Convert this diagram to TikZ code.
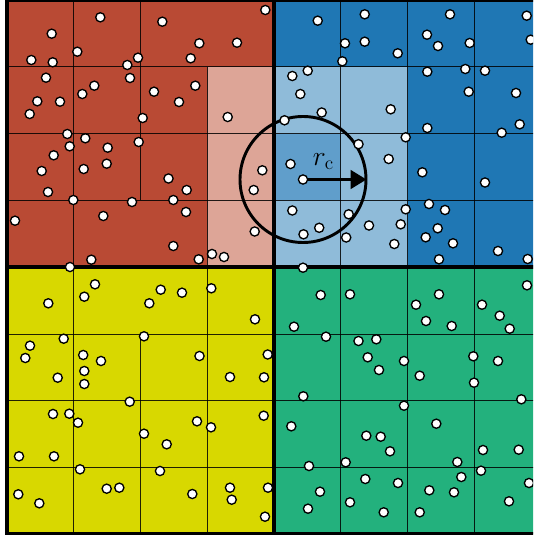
\documentclass[tikz,border=0pt]{standalone}
\usetikzlibrary{arrows.meta}
\definecolor{cred}{RGB}{185,74,52}
\definecolor{cpink}{RGB}{221,165,151}
\definecolor{cblue}{RGB}{31,119,180}
\definecolor{clblue}{RGB}{143,187,217}
\definecolor{cmblue}{RGB}{96,158,203}
\definecolor{cyellow}{RGB}{216,216,0}
\definecolor{cgreen}{RGB}{35,177,125}
\tikzset{
  thin grid/.style={line width=0.7pt, draw=black, opacity=0.85},
  thick border/.style={line width=3pt, draw=black},
  particle/.style={fill=white, draw=black, line width=1pt},
  radius arrow/.style={line width=2.2pt, -{Triangle[length=12pt,width=14pt]}},
  cutoff/.style={line width=2.2pt, draw=black}
}
\begin{document}
\begin{tikzpicture}[x=0.75pt,y=-0.75pt]
\useasboundingbox (0,0) rectangle (533,535);
\clip (0,0) rectangle (533,535);
% fills
\fill[cred] (6.8,0) rectangle (274,267.2);
\fill[cpink] (207.2,66.8) rectangle (274,267.2);
\fill[cblue] (274,0) rectangle (541.2,267.2);
\fill[clblue] (274,66.8) rectangle (407.6,267.2);
\fill[cmblue] (274,133.6) rectangle (340.8,200.4);
\fill[cyellow] (6.8,267.2) rectangle (274,534.4);
\fill[cgreen] (274,267.2) rectangle (541.2,534.4);
% thin grid: red quadrant
\foreach \y in {66.8,133.6,200.4} \draw[thin grid] (6.8,\y) -- (274,\y);
\draw[thin grid] (73.6,0) -- (73.6,267.2);
\draw[thin grid] (140.4,0) -- (140.4,200.4);
\draw[thin grid] (207.2,66.8) -- (207.2,267.2);
% blue quadrant
\foreach \y in {66.8,133.6,200.4} \draw[thin grid] (274,\y) -- (541.2,\y);
\foreach \x in {340.8,407.6,474.4} \draw[thin grid] (\x,0) -- (\x,267.2);
% yellow quadrant
\foreach \y in {334,400.8,467.6} \draw[thin grid] (6.8,\y) -- (274,\y);
\draw[thin grid] (73.6,267.2) -- (73.6,534.4);
\draw[thin grid] (140.4,334) -- (140.4,534.4);
\draw[thin grid] (207.2,267.2) -- (207.2,534.4);
% green quadrant
\foreach \y in {334,400.8,467.6} \draw[thin grid] (274,\y) -- (541.2,\y);
\foreach \x in {340.8,407.6,474.4} \draw[thin grid] (\x,267.2) -- (\x,534.4);
% thick borders
\draw[thick border] (6.8,0) rectangle (541.2,534.4);
\draw[thick border] (274,0) -- (274,534.4);
\draw[thick border] (6.8,267.2) -- (541.2,267.2);
% cutoff circle and arrow
\coordinate (c) at (303,179.5);
\coordinate (tip) at (366.5,179.5);
\draw[cutoff] (c) circle (63);
\draw[radius arrow] (c) -- (tip);
\node[anchor=base west, inner sep=0pt, font=\fontsize{20}{24}\selectfont] (rc) at (312.5,165) {$r_\mathrm{c}$};
% particles
\foreach \p in {
(100.3,17.3),(162.3,21.7),(51.7,33.7),(77.3,51.7),(31.3,60),(52.7,62.3),(138,57.7),(127.3,65),(46,77.7),(130,78),(94.3,85.7),(82.3,94),(154,91.7),(37.3,101.3),(60,101.7),(179,102),(29.7,114),(142.7,118),(67.3,134),(85.3,138.3),(138.7,142),(69.7,146.3),(107.7,147.7),(53.7,155.3),(106.7,163.7),(41.7,171),(83.7,169),(168.5,178.5),
(265.3,10),(199.3,43.3),(237,42.7),(190.7,58.3),(195.3,85.7),(227.7,117),(262.3,170.3),(253.7,190),(254.7,231.5),(186.7,190),(186,212),(212,254),(224,257),(198.7,259.3),
(48,192),(73.3,200),(132,202),(173.3,200),(15,220.7),(103.3,216),(173.3,246),(91.3,259.7),(70,267),
(317.7,20.7),(345,43.3),(342.3,61.3),(307.7,70.7),(292.3,76),(300.3,94),(321.7,112.5),(284.5,120.3),(358.5,144.2),(290.5,164),(303,179.5),(292.3,210.5),(348.7,214.3),(369,225.5),(319.2,227.8),(303.5,234.3),(346.2,237.5),
(364.7,14.3),(450,14.3),(526.7,15.7),(427,34.7),(364.7,41.7),(438,46),(469.7,43),(530.7,39.7),(397.7,53.3),(427.3,71.7),(465.3,69),(485,70.7),(468.7,91.7),(516,93),(390.7,109.3),(427.3,128),(519.7,124.3),(501.7,132.7),(405.7,137.3),(388.7,159),(422.3,172.3),(485,182.5),
(405.7,209.3),(400.7,224.3),(394.3,244),(429,204),(445,210),(437.7,228.3),(425.7,237.3),(453,243.3),(439,259.3),(498,251),(527.7,259),
(303,267.7),
(527,285.3),(439,294.3),(416,304.7),(482,304.7),(499.7,315.7),(426,321),(451.7,326),(509.7,328.7),(358.5,341),(376.3,339.3),(367.7,357.3),(404,361),(473.3,356.3),(498,361),(320.7,295),(350,294.3),(294,326.7),(326,336.7),
(379,370),(419.7,375.7),(474,382.7),(521.3,399.3),(404,405.7),(436.3,423.7),(366.3,435.7),(380.7,436.7),(390,451.3),(483,450),(518.7,449.7),(457.3,462),(481,470.7),(365.3,479),(398,483),(461.3,477),(529,483),(429.3,490.3),(454,492.3),(509,501.3),(383.7,512.3),(419.7,512.3),
(303.3,396.3),(291.3,426.3),(309,466),(345.7,462.3),(320,491.7),(308,508.7),(350,502.3),
(182,292.7),(211.3,288.3),(255,319.3),(199.5,356),(267.7,354.5),(95,284.3),(84.3,296.7),(48.3,303.3),(160.7,289.7),(149.3,303.3),(63.7,338.7),(144,336.3),(30,345.7),(25.3,358),(83.2,355),(101,361),(84.3,371),(57.7,377.7),(84.3,384),(129.7,401.7),(53,414),(69.3,413.7),(78,422.7),(144,433.7),(166.7,444.3),(19,456.3),(54,456.3),(80,469.3),(160,471),(18.3,494.3),(39.3,503.3),(106.7,488.7),(119.3,487.7),(230,377),(264,377.3),(197,421.3),(211,427.3),(263.7,415.7),(192.3,494),(230,487.7),(231.7,499.7),(268,487.7),(265,516.7)
} {
  \draw[particle] \p circle (4.6);
}
\end{tikzpicture}
\end{document}
